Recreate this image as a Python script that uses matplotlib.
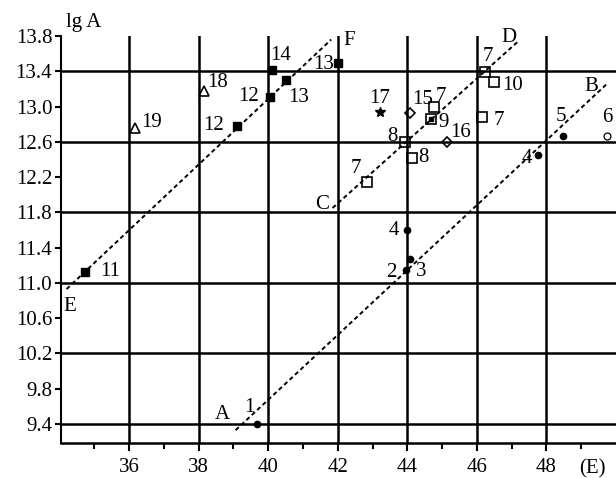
import matplotlib
matplotlib.use("Agg")
from matplotlib import pyplot as plt

plt.rcParams['font.family'] = ['Liberation Serif', 'DejaVu Serif']
plt.rcParams['font.size'] = 15

# Line A-B : filled circles (plus one open circle)
ab_x = [39.69, 43.97, 44.08, 44.00, 47.77, 48.48]
ab_y = [9.40, 11.15, 11.27, 11.60, 12.45, 12.67]
ab_labels = ["1", "2", "3", "4", "4", "5"]
ab_off = [(-8, 17), (-15, -3), (11, -12), (-13, 0), (-12, -3), (-2, 19)]
open_circ_x = [49.74]
open_circ_y = [12.67]
open_circ_labels = ["6"]
open_circ_off = [(0, 18)]

# Line C-D : open squares, diamonds, star
cd_x = [42.83, 43.92, 44.12, 44.76, 46.16, 46.23, 46.48]
cd_y = [12.14, 12.60, 12.42, 12.99, 12.88, 13.39, 13.28]
cd_labels = ["7", "8", "8", "7", "7", "7", "10"]
cd_off = [(-11, 14), (-12, 5), (12, 0), (7, 11), (16, -3), (3, 16), (19, -4)]
sq9_x = [44.69]
sq9_y = [12.86]
sq9_labels = ["9"]
sq9_off = [(12, -4)]
dia_x = [44.09, 45.13]
dia_y = [12.93, 12.60]
dia_labels = ["15", "16"]
dia_off = [(12, 13), (14, 9)]
star_x = [43.20]
star_y = [12.94]
star_labels = ["17"]
star_off = [(0, 13)]

# Line E-F : filled squares, triangles
ef_x = [34.73, 39.11, 40.04, 40.52, 40.11, 42.01]
ef_y = [11.12, 12.78, 13.11, 13.30, 13.41, 13.49]
ef_labels = ["11", "12", "12", "13", "14", "13"]
ef_off = [(25, 1), (-24, 0), (-21, 0), (12, -17), (9, 15), (-15, -1)]
tri_x = [38.14, 36.18]
tri_y = [13.18, 12.76]
tri_labels = ["18", "19"]
tri_off = [(14, 8), (16, 5)]

# dashed trend lines (end points)
line_ab_x = [39.06, 49.72]
line_ab_y = [9.33, 13.25]
line_cd_x = [41.85, 47.19]
line_cd_y = [11.85, 13.74]
line_ef_x = [34.20, 41.81]
line_ef_y = [10.93, 13.76]

grid_x = [36, 38, 40, 42, 44, 46, 48]
grid_y = [13.4, 12.6, 11.8, 11.0, 10.2, 9.4]
yticks = [13.8, 13.4, 13.0, 12.6, 12.2, 11.8, 11.4, 11.0, 10.6, 10.2, 9.8, 9.4]
xticks_minor = [35, 37, 39, 41, 43, 45, 47, 49]

fig = plt.figure(figsize=(6.16, 4.78), dpi=100)
ax = fig.add_axes([61/616, 35/478, 555/616, 407/478])

# grid
for gx in grid_x:
    ax.axvline(gx, color='k', lw=1.8, zorder=1)
for gy in grid_y:
    ax.axhline(gy, color='k', lw=1.8, zorder=1)

# dashed lines
ds = dict(color='k', lw=1.4, dashes=(2.2, 1.6), zorder=2)
ax.plot(line_ab_x, line_ab_y, **ds)
ax.plot(line_cd_x, line_cd_y, **ds)
ax.plot(line_ef_x, line_ef_y, **ds)

# markers
ax.plot(ab_x, ab_y, 'o', ms=4.5, color='k', ls='none', zorder=3)
ax.plot(open_circ_x, open_circ_y, 'o', ms=5, mfc='none', mec='k', mew=0.9, ls='none', zorder=3)
ax.plot(cd_x, cd_y, 's', ms=6.5, mfc='none', mec='k', mew=1.2, ls='none', zorder=3)
ax.plot(sq9_x, sq9_y, 's', ms=6.5, mfc='none', mec='k', mew=1.2, ls='none', zorder=3)
ax.plot(sq9_x, sq9_y, 's', ms=3.5, color='k', ls='none', zorder=3)
ax.plot(dia_x, dia_y, 'D', ms=5.5, mfc='none', mec='k', mew=1.2, ls='none', zorder=3)
ax.plot(star_x, star_y, '*', ms=7, color='k', ls='none', zorder=3)
ax.plot(ef_x, ef_y, 's', ms=5.5, color='k', ls='none', zorder=3)
ax.plot(tri_x, tri_y, '^', ms=6.5, mfc='none', mec='k', mew=1.2, ls='none', zorder=3)

# point labels
groups = [(ab_x, ab_y, ab_labels, ab_off),
          (open_circ_x, open_circ_y, open_circ_labels, open_circ_off),
          (cd_x, cd_y, cd_labels, cd_off),
          (sq9_x, sq9_y, sq9_labels, sq9_off),
          (dia_x, dia_y, dia_labels, dia_off),
          (star_x, star_y, star_labels, star_off),
          (ef_x, ef_y, ef_labels, ef_off),
          (tri_x, tri_y, tri_labels, tri_off)]
for xs, ys, labs, offs in groups:
    for x, y, lab, off in zip(xs, ys, labs, offs):
        ax.annotate(lab, (x, y), xytext=off, textcoords='offset pixels',
                    ha='center', va='center')

# line letters
ax.text(38.68, 9.505, "A", ha='center', va='center')
ax.text(49.30, 13.224, "B", ha='center', va='center')
ax.text(41.56, 11.886, "C", ha='center', va='center')
ax.text(46.93, 13.78, "D", ha='center', va='center', clip_on=False)
ax.text(34.30, 10.73, "E", ha='center', va='center')
ax.text(42.34, 13.75, "F", ha='center', va='center', clip_on=False)

ax.set_xlim(34.04, 50)
ax.set_ylim(9.185, 13.8)
ax.set_xticks(grid_x)
ax.set_xticks(xticks_minor, minor=True)
ax.set_yticks(yticks)
ax.set_yticklabels(["%.1f" % v for v in yticks])

ax.spines['top'].set_visible(False)
ax.spines['right'].set_visible(False)
ax.spines['left'].set_linewidth(1.5)
ax.spines['bottom'].set_linewidth(1.8)
ax.tick_params(axis='x', which='major', direction='out', length=5.5, width=1.5, pad=5)
ax.tick_params(axis='x', which='minor', direction='out', length=4, width=1.5)
ax.tick_params(axis='y', direction='out', length=4.3, width=1.5, pad=2)

fig.text(84/616, 1 - 22/478, "lg A", ha='center', va='center')
fig.text(592/616, 1 - 469/478, "(E)", ha='center', va='center')

plt.savefig("out.png", dpi=100)
